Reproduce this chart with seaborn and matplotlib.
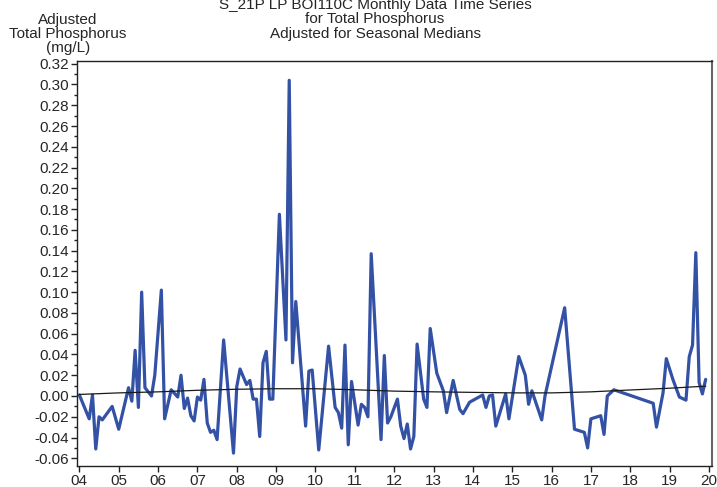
import matplotlib
matplotlib.use("Agg")
import matplotlib.pyplot as plt
from matplotlib.ticker import MultipleLocator, FormatStrFormatter
import seaborn as sns
import pandas as pd

# months since Jan 2004 and adjusted values (mg/L)
months = [0, 3, 4, 5, 6, 7, 10, 12, 15, 16, 17, 18, 19, 20, 22, 23, 25, 26, 28, 30,
          31, 32, 33, 34, 35, 36, 37, 38, 39, 40, 41, 42, 44, 47, 48, 49, 51, 52, 53, 54,
          55, 56, 57, 58, 59, 61, 63, 64, 65, 66, 69, 70, 71, 73, 76, 78, 79, 80, 81, 82,
          83, 85, 86, 87, 88, 89, 92, 93, 94, 95, 97, 98, 99, 100, 101, 102, 103, 105, 106, 107,
          109, 111, 112, 114, 116, 117, 119, 123, 124, 125, 126, 127, 130, 131, 134, 136, 137, 138, 141, 142,
          148, 151, 154, 155, 156, 159, 160, 161, 163, 175, 176, 178, 179, 181, 183, 185, 186, 187, 188, 189,
          190, 191]
values = [0.001, -0.022, 0.001, -0.051, -0.020, -0.023, -0.010, -0.032, 0.008, -0.005,
          0.044, -0.011, 0.100, 0.008, 0.000, 0.020, 0.102, -0.022, 0.006, -0.001,
          0.020, -0.012, -0.002, -0.019, -0.024, -0.001, -0.004, 0.016, -0.026, -0.035,
          -0.033, -0.042, 0.054, -0.055, 0.009, 0.026, 0.011, 0.015, -0.003, -0.003,
          -0.039, 0.032, 0.043, -0.003, -0.003, 0.175, 0.054, 0.304, 0.032, 0.091,
          -0.029, 0.024, 0.025, -0.052, 0.048, -0.011, -0.016, -0.031, 0.049, -0.047,
          0.014, -0.028, -0.008, -0.011, -0.020, 0.137, -0.042, 0.039, -0.026, -0.020,
          -0.003, -0.029, -0.041, -0.027, -0.051, -0.039, 0.050, -0.003, -0.011, 0.065,
          0.022, 0.005, -0.016, 0.015, -0.013, -0.017, -0.006, 0.001, -0.011, 0.000,
          0.001, -0.029, 0.002, -0.022, 0.038, 0.020, -0.008, 0.005, -0.023, 0.000,
          0.085, -0.032, -0.035, -0.050, -0.022, -0.019, -0.037, 0.000, 0.006, -0.007,
          -0.030, 0.003, 0.036, 0.016, -0.001, -0.004, 0.038, 0.049, 0.138, 0.013,
          0.002, 0.016]

# smooth trend
trend_years = [2004.0, 2005, 2006, 2007, 2008, 2009, 2010, 2011, 2012, 2013,
               2014, 2015, 2016, 2017, 2018, 2019, 2019.92]
trend_values = [0.0015, 0.003, 0.004, 0.0055, 0.0065, 0.007, 0.007, 0.006, 0.0047, 0.004,
                0.0035, 0.003, 0.003, 0.004, 0.0058, 0.0075, 0.0095]

year_ticks = list(range(2004, 2021))
year_labels = ["%02d" % (y % 100) for y in year_ticks]

df = pd.DataFrame({"year": [2004 + m / 12 for m in months], "value": values})
trend = pd.DataFrame({"year": trend_years, "value": trend_values})

sns.set_style("ticks")
plt.rcParams["font.family"] = ["Liberation Sans", "DejaVu Sans"]
plt.rcParams["axes.unicode_minus"] = False

fig = plt.figure(figsize=(7.17, 4.87), dpi=100)
ax = fig.add_axes([0.1074, 0.044, 0.8852, 0.8305])

sns.lineplot(data=df, x="year", y="value", color="#3352a6", linewidth=2.3, ax=ax)
sns.lineplot(data=trend, x="year", y="value", color="#1a1a1a", linewidth=0.9, ax=ax)

ax.set_xlim(2003.94, 2020.07)
ax.set_ylim(-0.067, 0.3225)
ax.set_xticks(year_ticks)
ax.set_xticklabels(year_labels)
ax.yaxis.set_major_locator(MultipleLocator(0.02))
ax.yaxis.set_minor_locator(MultipleLocator(0.01))
ax.yaxis.set_major_formatter(FormatStrFormatter("%.2f"))
ax.tick_params(axis="both", labelsize=11, color="#222222", length=4, width=1, pad=2)
ax.tick_params(axis="y", which="minor", length=2.5, width=1, color="#222222")
ax.set_xlabel("")
ax.set_ylabel("")
for s in ax.spines.values():
    s.set_visible(True)
    s.set_color("#222222")
    s.set_linewidth(1)
ax.spines["right"].set_color("#666666")
ax.spines["right"].set_linewidth(1.5)

fig.text(375 / 717, 1 - 41 / 487,
         "S_21P LP BOI110C Monthly Data Time Series\nfor Total Phosphorus\nAdjusted for Seasonal Medians",
         ha="center", va="bottom", fontsize=11, linespacing=1.05)
fig.text(68 / 717, 1 - 55 / 487, "Adjusted\nTotal Phosphorus\n(mg/L)",
         ha="center", va="bottom", fontsize=11, linespacing=1.0, multialignment="center")

fig.savefig("out.png", dpi=100)
